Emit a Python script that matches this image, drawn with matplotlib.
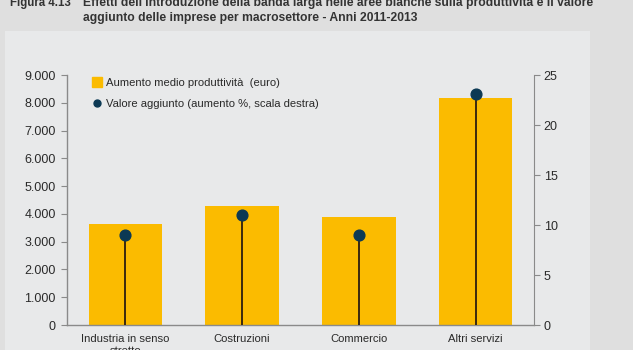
import matplotlib
matplotlib.use("Agg")
import matplotlib.pyplot as plt
from matplotlib.lines import Line2D

categories = ["Industria in senso\nstretto", "Costruzioni", "Commercio", "Altri servizi"]
produttivita = [3650, 4290, 3890, 8180]
valore_aggiunto = [9.0, 11.0, 9.0, 23.1]
left_ticks = [0, 1000, 2000, 3000, 4000, 5000, 6000, 7000, 8000, 9000]
left_labels = ["0", "1.000", "2.000", "3.000", "4.000", "5.000", "6.000", "7.000", "8.000", "9.000"]
right_ticks = [0, 5, 10, 15, 20, 25]

plt.rcParams['font.family'] = ['Liberation Sans', 'DejaVu Sans']

W, H = 633, 350
fig = plt.figure(figsize=(W / 100, H / 100), dpi=100)
fig.patch.set_facecolor('#dfdfdf')

# inner panel
bg = fig.add_axes([5 / W, 0, (590 - 5) / W, 1 - 31 / H], zorder=-10)
bg.set_facecolor('#e8e9ea')
bg.set_xticks([])
bg.set_yticks([])
for s in bg.spines.values():
    s.set_visible(False)

bar_color = '#fbbb00'
dot_color = '#0c3954'
text_color = '#2a2a2a'
spine_color = '#8a8a8a'

ax = fig.add_axes([67 / W, 1 - 325 / H, (534 - 67) / W, (325 - 75) / H])
ax.set_facecolor('none')
x = list(range(len(categories)))
ax.bar(x, produttivita, width=0.63, color=bar_color, zorder=2)
ax.set_xlim(-0.5, 3.5)
ax.set_ylim(0, 9000)
ax.set_yticks(left_ticks)
ax.set_yticklabels(left_labels)
ax.set_xticks(x)
ax.set_xticklabels(categories, va='top', linespacing=1.2)
ax.tick_params(axis='x', length=0, pad=6.5, labelsize=8.1, colors=text_color)
ax.tick_params(axis='y', length=4, color=spine_color, pad=4, labelsize=9, labelcolor=text_color)
for s in ['top', 'right']:
    ax.spines[s].set_visible(False)
for s in ['left', 'bottom']:
    ax.spines[s].set_color(spine_color)
    ax.spines[s].set_linewidth(1.0)

ax2 = ax.twinx()
ax2.set_ylim(0, 25)
ax2.set_yticks(right_ticks)
ax2.vlines(x, 0, valore_aggiunto, color='#2b1d10', linewidth=1.3, zorder=3)
ax2.scatter(x, valore_aggiunto, s=60, color=dot_color, zorder=4)
for s in ['top', 'left', 'bottom']:
    ax2.spines[s].set_visible(False)
ax2.spines['right'].set_color(spine_color)
ax2.tick_params(axis='y', length=4, color=spine_color, pad=3, labelsize=9, labelcolor=text_color)

handles = [Line2D([], [], marker='s', linestyle='none', markersize=7, color=bar_color),
           Line2D([], [], marker='o', linestyle='none', markersize=5, color=dot_color)]
ax.legend(handles, ["Aumento medio produttività  (euro)", "Valore aggiunto (aumento %, scala destra)"],
          loc='upper left', bbox_to_anchor=(0.032, 1.028), frameon=False, fontsize=8.1,
          handlelength=0.8, handletextpad=0.4, labelspacing=1.0, labelcolor=text_color)

fs = 8.7
fig.text(10 / W, 1 - 3 / H, "Figura 4.13", fontsize=8.3, fontweight='bold', color='#333333', va='center')
fig.text(83 / W, 1 - 3 / H,
         "Effetti dell'introduzione della banda larga nelle aree bianche sulla produttività e il valore",
         fontsize=fs, fontweight='bold', color='#333333', va='center')
fig.text(83 / W, 1 - 18 / H, "aggiunto delle imprese per macrosettore - Anni 2011-2013",
         fontsize=fs, fontweight='bold', color='#333333', va='center')

fig.savefig("out.png", dpi=100, facecolor=fig.get_facecolor())
